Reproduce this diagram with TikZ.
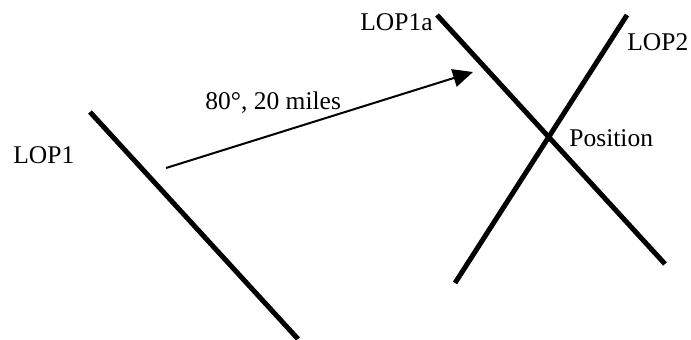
\documentclass[tikz,border=0pt]{standalone}
\usepackage{fontspec}
\setmainfont{Liberation Serif}
\usepackage{tikz}
\usetikzlibrary{positioning,arrows.meta}
\tikzset{
  lopline/.style={line width=2.5pt},
  courseline/.style={-{Triangle[length=10pt, width=9pt]}, line width=1pt},
  loplabel/.style={font=\fontsize{12.75}{15}\selectfont, inner sep=0pt, anchor=base west}
}

\begin{document}
\begin{tikzpicture}[x=0.5pt, y=-0.5pt]
  \useasboundingbox (0,0) rectangle (691,339);
  % line ends
  \coordinate (lop1top) at (90,112);
  \coordinate (lop1bot) at (298,339);
  \coordinate (lop1atop) at (437,15);
  \coordinate (lop1abot) at (665,264);
  \coordinate (lop2top) at (627,15);
  \coordinate (lop2bot) at (455,283);
  \coordinate (start) at (166,168);
  \coordinate (tip) at (473,72);
  % labels
  \node[loplabel] (lop1) at (13,163) {LOP1};
  \node[loplabel] (lop1a) at (360,30) {LOP1a};
  \node[loplabel] (lop2) at (627,50) {LOP2};
  \node[loplabel] (pos) at (569,146) {Position};
  \node[loplabel] (course) at (205,109) {80°, 20 miles};
  % lines of position
  \draw[lopline] (lop1top) -- (lop1bot);
  \draw[lopline] (lop1atop) -- (lop1abot);
  \draw[lopline] (lop2top) -- (lop2bot);
  \draw[courseline] (start) -- (tip);
\end{tikzpicture}
\end{document}
